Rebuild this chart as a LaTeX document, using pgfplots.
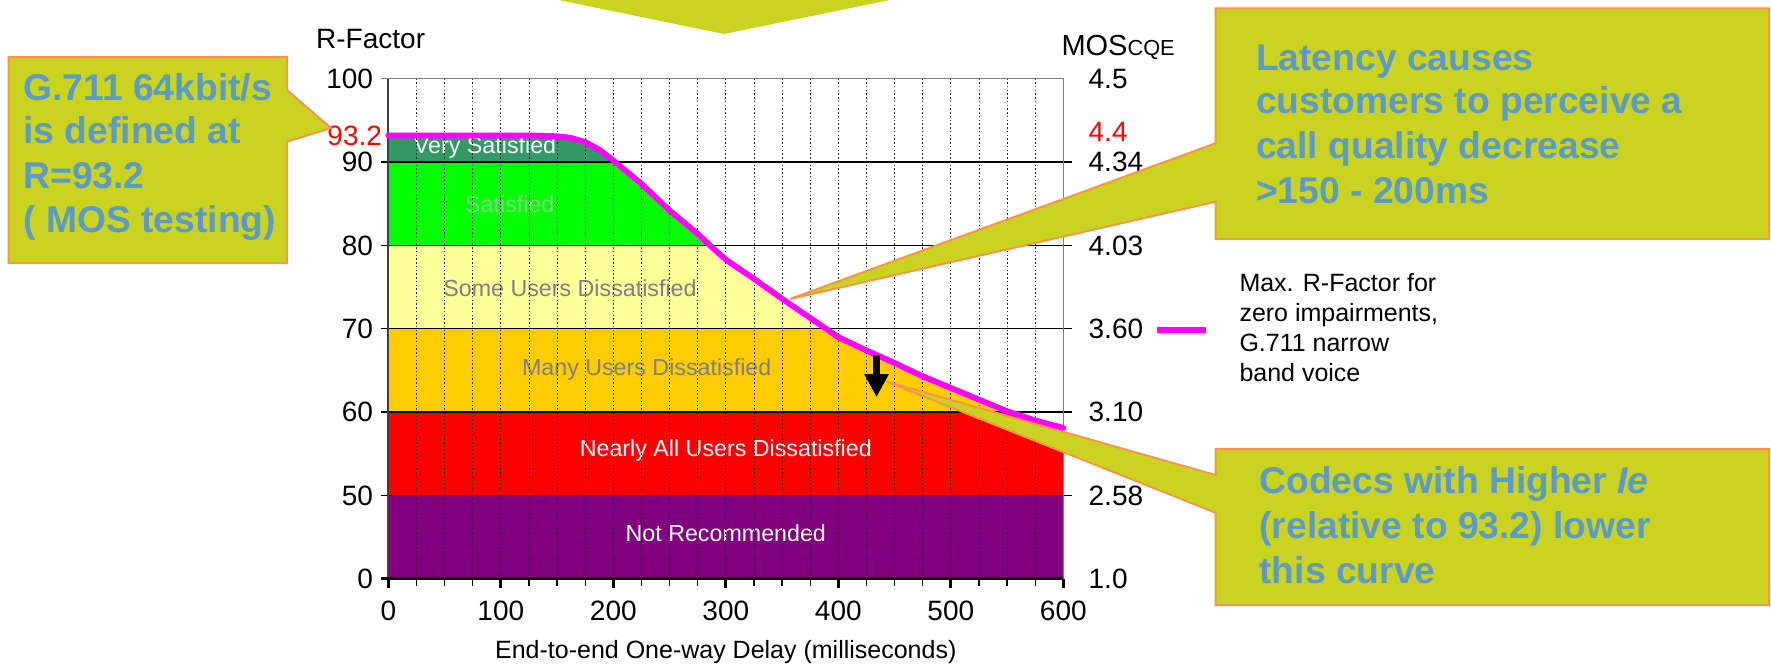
\documentclass[border=0pt]{standalone}
\usepackage{fontspec}
\setmainfont{Liberation Sans}
\usepackage{pgfplots}
\pgfplotsset{compat=1.18}
\usepackage{pgfplotstable}
\usetikzlibrary{arrows.meta}

\definecolor{vsat}{RGB}{51,153,102}
\definecolor{sat}{RGB}{0,255,0}
\definecolor{some}{RGB}{255,255,153}
\definecolor{many}{RGB}{255,204,0}
\definecolor{nearly}{RGB}{255,0,0}
\definecolor{notrec}{RGB}{128,0,128}
\definecolor{satlabel}{RGB}{125,215,125}
\definecolor{bandgray}{RGB}{128,128,128}
\definecolor{callfill}{RGB}{201,211,32}
\definecolor{callline}{RGB}{247,150,70}
\definecolor{calltext}{RGB}{91,155,200}
\definecolor{rcurve}{RGB}{255,0,255}

\newcommand\fs[1]{\fontsize{#1pt}{#1pt}\selectfont}

% maximum R-factor vs. one-way delay, G.711, no other impairments
\pgfplotstableread{
d R
0 93.2
50 93.2
100 93.2
125 93.2
150 93.1
162.5 92.9
175 92.4
187.5 91.5
200 90.2
212.5 88.8
225 87.4
237.5 85.8
250 84.2
262.5 82.8
275 81.4
287.5 79.8
300 78.3
325 76.0
350 73.6
375 71.3
400 69.0
425 67.4
450 65.9
475 64.3
500 62.9
525 61.5
550 60.1
575 59.0
600 58.1
}\curvedata

% R scale: 0-50 squeezed into one band, then one band per 10 points
\pgfplotsset{rband/.style={
  y coord trafo/.code={\pgfmathparse{ifthenelse(##1>=50,(##1-50)/10+1,##1/50)}},
  ymin=0, ymax=100,
  xmin=0, xmax=600,
  at={(155.32pt,-231.48pt)}, anchor=south west,
  width=270pt, height=200pt, scale only axis,
}}

\begin{document}
\begin{tikzpicture}
\begin{axis}[
  rband,
  clip=false,
  axis line style={draw=gray, line width=0.6pt},
  xtick={0,100,...,600},
  minor xtick={25,50,...,575},
  xtick pos=left,
  tick align=outside,
  major tick length=3.6pt, minor tick length=2.8pt,
  xtick style={black},
  major tick style={line width=1.2pt},
  minor tick style={line width=0.5pt},
  ytick={0,50,60,70,80,90,100},
  yticklabels={0,50,60,70,80,90,100},
  ytick style={draw=none},
  extra y ticks={93.2},
  extra y tick labels={\textcolor{red}{93.2}},
  extra y tick style={major tick length=0pt},
  ticklabel style={font=\fs{11.2}},
  yticklabel style={xshift=1pt},
  xticklabel style={yshift=-1.6pt},
  /pgf/number format/assume math mode=true,
  xlabel={End-to-end One-way Delay (milliseconds)},
  xlabel style={at={(axis description cs:0.5,-0.1466)}, anchor=center, font=\fs{10}},
]
% quality bands
\addplot[draw=none, fill=notrec] coordinates {(0,0) (600,0) (600,50) (0,50)};
\addplot[draw=none, fill=nearly] coordinates {(0,50) (600,50) (600,60) (0,60)};
\addplot[draw=none, fill=many] coordinates {(0,60) (600,60) (600,70) (0,70)};
\addplot[draw=none, fill=some] coordinates {(0,70) (600,70) (600,80) (0,80)};
\addplot[draw=none, fill=sat] coordinates {(0,80) (600,80) (600,90) (0,90)};
\addplot[draw=none, fill=vsat] coordinates {(0,90) (600,90) (600,100) (0,100)};
% nothing is reachable above the curve
\addplot[draw=none, fill=white] table {\curvedata} -- (axis cs:600,100) -- (axis cs:0,100) -- cycle;

% band names
\node[font=\fs{9.3}, text=white] at (axis cs:86,91.7) {Very Satisfied};
\node[font=\fs{9.3}, text=satlabel] at (axis cs:108,85) {Satisfied};
\node[font=\fs{9.3}, text=bandgray] at (axis cs:161.5,74.9) {Some Users Dissatisfied};
\node[font=\fs{9.3}, text=bandgray] at (axis cs:229.7,65.1) {Many Users Dissatisfied};
\node[font=\fs{9.3}, text=white] at (axis cs:300,55.4) {Nearly All Users Dissatisfied};
\node[font=\fs{9.3}, text=white] at (axis cs:300,27.2) {Not Recommended};

% delay grid every 25 ms
\pgfplotsinvokeforeach{25,50,...,575}{
  \draw[black!85, line width=0.3pt, dash pattern=on 0.6pt off 0.9pt] (axis cs:#1,0) -- (axis cs:#1,100);
}
% band limits
\pgfplotsinvokeforeach{50,60,70,80,90}{
  \draw[black, line width=0.6pt] ([xshift=-2.8pt]axis cs:0,#1) -- ([xshift=3.6pt]axis cs:600,#1);
}
\draw[gray, line width=0.6pt] ([xshift=-2.8pt]axis cs:0,100) -- (axis cs:600,100);
\draw[gray, line width=0.6pt] (axis cs:600,0) -- (axis cs:600,100);
\draw[black!75, line width=0.7pt] (axis cs:0,0) -- (axis cs:0,100);
\draw[black, line width=1pt] ([xshift=-2.8pt]axis cs:0,0) -- (axis cs:600,0);

% R-factor curve
\addplot[rcurve, line width=2.3pt, line join=round, line cap=round] table {\curvedata};

% lowering of the curve by codec impairment
\draw[black, line width=2.6pt, -{Triangle[width=9.2pt,length=9.2pt]}] (axis cs:434,66.8) -- (axis cs:434,61.8);
\end{axis}

% MOS scale on the right
\begin{axis}[
  rband,
  hide x axis,
  axis y line*=right,
  axis line style={draw=none},
  ytick={0,50,60,70,80,90,93.6,100},
  yticklabels={1.0,2.58,3.10,3.60,4.03,4.34,\textcolor{red}{4.4},4.5},
  ytick style={draw=none},
  major tick length=0pt,
  ticklabel style={font=\fs{11.2}},
  yticklabel style={xshift=6.6pt},
]
\end{axis}

\begin{scope}[x=0.4pt, y=-0.4pt]
% axis titles
\node[anchor=base west, inner sep=0, font=\fs{11.2}] at (315.7,48.3) {R-Factor};
\node[anchor=base west, inner sep=0, font=\fs{11.6}] at (1061,55) {MOS{\fs{8.7}CQE}};

% legend
\draw[rcurve, line width=2.4pt] (1157,330) -- (1206,330);
\begin{scope}[every node/.style={anchor=base west, inner sep=0, font=\fs{10}}]
\node at (1239,291.7) {Max. R-Factor for};
\node at (1239,321.7) {zero impairments,};
\node at (1239,351.7) {G.711 narrow};
\node at (1239,381.7) {band voice};
\end{scope}

% call-outs
\fill[callfill] (549,-2) -- (899.5,-2) -- (724,34) -- cycle;
\filldraw[fill=callfill, draw=callline, line width=0.8pt, line join=miter]
  (8.6,57) -- (287,57) -- (287,90) -- (331,128) -- (287,141.7) -- (287,263) -- (8.6,263) -- cycle;
\filldraw[fill=callfill, draw=callline, line width=0.8pt, line join=miter]
  (1215.6,8.3) -- (1769,8.3) -- (1769,239) -- (1215.6,239) -- (1215.6,201.7) -- (790,299) -- (1215.6,143.3) -- cycle;
\filldraw[fill=callfill, draw=callline, line width=0.8pt, line join=miter]
  (1215.5,449) -- (1769,449) -- (1769,605) -- (1215.5,605) -- (1215.5,512.7) -- (886.7,381.7) -- (1215.5,475) -- cycle;

\begin{scope}[every node/.style={anchor=base west, inner sep=0, font=\fs{14.9}\bfseries, text=calltext}]
\node at (23,100) {G.711 64kbit/s};
\node at (23,143.5) {is defined at};
\node at (23,188) {R=93.2};
\node at (23,232) {( MOS testing)};
\node at (1255.6,70) {Latency causes};
\node at (1255.6,113) {customers to perceive a};
\node at (1255.6,158) {call quality decrease};
\node at (1255.6,203) {>150 - 200ms};
\node at (1259,493) {Codecs with Higher \textit{Ie}};
\node at (1259,538) {(relative to 93.2) lower};
\node at (1259,583) {this curve};
\end{scope}
\end{scope}

\pgfresetboundingbox
\path (0,0) rectangle (708.4pt,-265.6pt);
\end{tikzpicture}
\end{document}
